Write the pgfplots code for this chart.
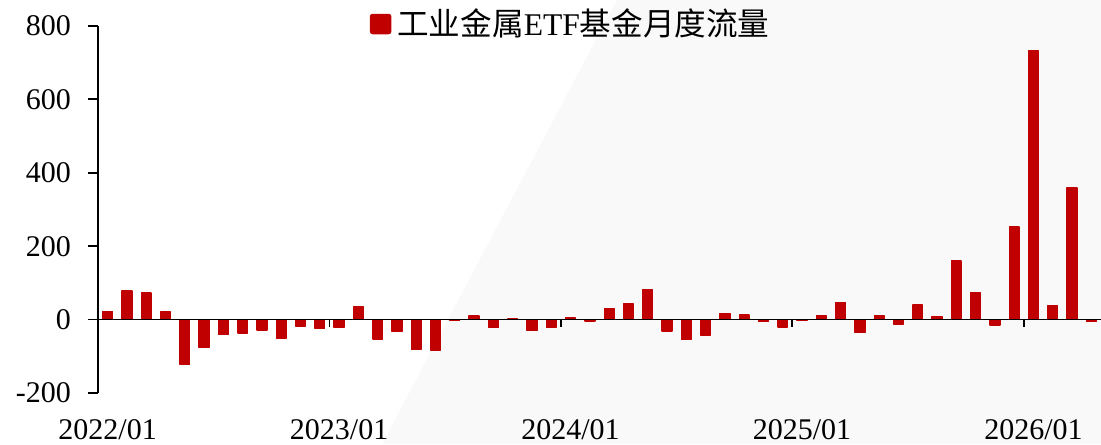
\documentclass[border=0pt]{standalone}
\usepackage{fontspec}
\setmainfont{Liberation Serif}
\newfontfamily\cjk{Noto Sans CJK SC}
\usepackage{pgfplots}
\usepackage{pgfplotstable}
\pgfplotsset{compat=1.18}
\definecolor{barred}{RGB}{192,0,0}
\definecolor{bggray}{RGB}{249,249,249}

\pgfplotstableread{
x y
0 22
1 78
2 73
3 21
4 -123
5 -76
6 -41
7 -37
8 -29
9 -51
10 -17
11 -24
12 -21
13 34
14 -53
15 -32
16 -82
17 -83
18 -2
19 10
20 -22
21 2
22 -30
23 -21
24 4
25 -4
26 30
27 42
28 82
29 -31
30 -54
31 -42
32 16
33 12
34 -5
35 -20
36 -3
37 11
38 46
39 -35
40 11
41 -12
42 40
43 8
44 160
45 73
46 -15
47 252
48 732
49 39
50 358
51 -5
}\flows

\begin{document}
\begin{tikzpicture}
\useasboundingbox (0,0) rectangle (550.5pt,222pt);
\fill[bggray] (191pt,0pt) -- (308.5pt,222pt) -- (550.5pt,222pt) -- (550.5pt,0pt) -- cycle;
\begin{axis}[
  at={(49pt,25.5pt)}, anchor=south west,
  width=501.5pt, height=183.5pt, scale only axis,
  xmin=-0.5, xmax=51.5, ymin=-200, ymax=800,
  axis lines*=left,
  x axis line style={draw=none},
  y axis line style={line width=0.9pt},
  ytick={-200,0,200,400,600,800},
  yticklabels={-200,0,200,400,600,800},
  xtick={0,12,24,36,48},
  xticklabels={2022/01,2023/01,2024/01,2025/01,2026/01},
  x tick style={draw=none},
  y tick style={line width=0.9pt, black},
  tick align=outside,
  major tick length=5pt,
  tick label style={font=\fontsize{15}{18}\selectfont},
  yticklabel style={xshift=-5pt},
  xticklabel style={yshift=-4.5pt},
  ybar, bar width=4.9pt,
  clip=false,
  legend style={at={(axis description cs:0.4723,1.0054)}, anchor=center, draw=none, fill=none, inner sep=0pt, font=\fontsize{15.8}{18}\selectfont},
]
\addplot[fill=barred, draw=barred, line width=0.75pt, line join=round,
  legend image code/.code={\fill[barred,rounded corners=1pt] (0pt,-4.75pt) rectangle (10pt,4.75pt);}]
  table[x=x,y=y]{\flows};
\addlegendentry{\hspace{1pt}{\cjk 工业金属}ETF{\cjk 基金月度流量}}
\draw[line width=0.9pt] (axis cs:-0.5,0) -- (axis cs:51.5,0);
\pgfplotsinvokeforeach{11.5,23.5,35.5,47.5}{\draw[line width=0.9pt] (axis cs:#1,0) -- ++(0pt,-3.5pt);}
\end{axis}
\end{tikzpicture}
\end{document}
